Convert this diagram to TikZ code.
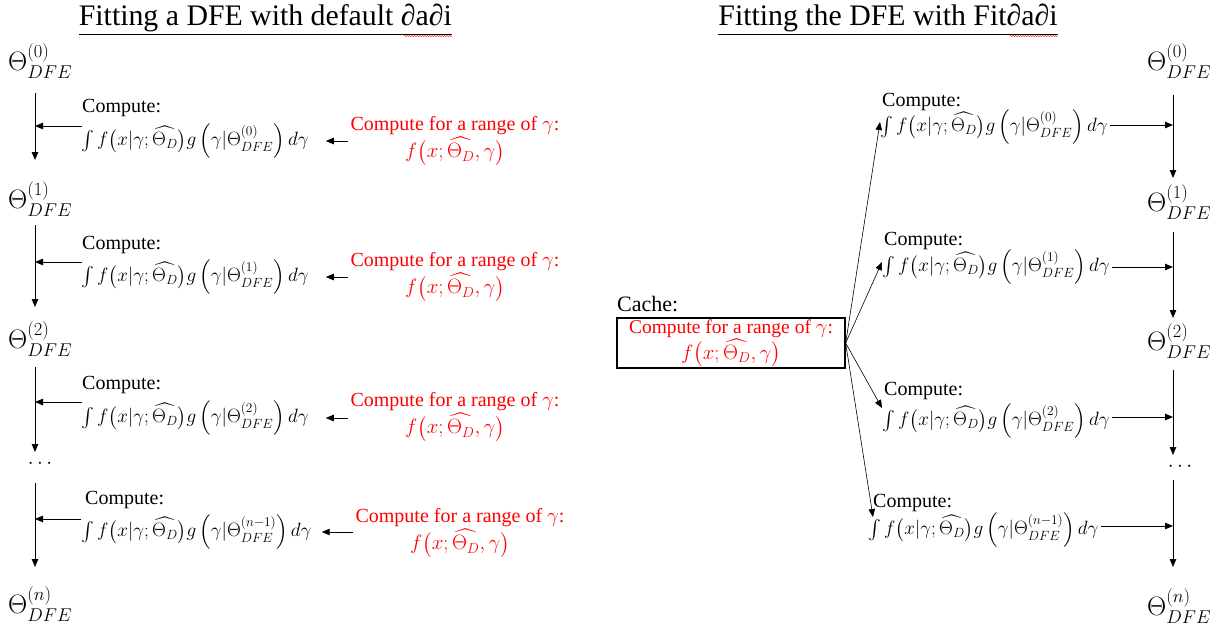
\documentclass[tikz,border=0pt]{standalone}
\usepackage{exscale}
\usepackage{fontspec}
\setmainfont{Liberation Serif}
\usetikzlibrary{arrows.meta,decorations.pathmorphing}
\newcommand{\myinteg}[1]{$\int f\big(x|\gamma;\widehat{\Theta_D}\big)g\,\Big(\gamma|\Theta^{(#1)}_{DFE}\Big)\,d\gamma$}
\newcommand{\myrange}{Compute for a range of $\gamma$:\\ $f\big(x;\widehat{\Theta_D},\gamma\big)$}
\begin{document}
\begin{tikzpicture}[x=1pt,y=-1pt,
  arr/.style={-{Triangle[length=8pt,width=6.5pt]},line width=0.8pt},
  thin arr/.style={-{Triangle[length=8pt,width=6.5pt]},line width=0.6pt},
  theta/.style={font=\fontsize{25.5}{28}\selectfont, scale=1.07, inner sep=0pt, anchor=west},
  lbl/.style={font=\fontsize{20}{22}\selectfont, inner sep=0pt, anchor=west},
  integ/.style={font=\fontsize{20}{22}\selectfont, scale=0.927, inner sep=0pt, anchor=west},
  redtxt/.style={font=\fontsize{20}{27}\selectfont, text=red, align=center, inner sep=0pt},
  ttl/.style={font=\fontsize{29.8}{32}\selectfont, inner sep=0pt},
  squig/.style={red, line width=0.4pt, decorate, decoration={snake, amplitude=0.6pt, segment length=2.5pt}}
]
\useasboundingbox (0,0) rectangle (1217,632);

% titles
\node[ttl, anchor=east] (titleL) at (452,20) {\underline{Fitting a DFE with default ∂a∂i}};
\node[ttl] (titleR) at (888,20) {\underline{Fitting the DFE with Fit∂a∂i}};
\draw[squig] ([xshift=-48pt,yshift=-16pt]titleL.east) -- ([yshift=-16pt]titleL.east);
\draw[squig] ([xshift=-48pt,yshift=-16pt]titleR.east) -- ([yshift=-16pt]titleR.east);

% ---------------- left column ----------------
\coordinate (vL) at (35,0);
\node[theta] (tL0) at (8,61) {$\Theta^{(0)}_{DFE}$};
\node[theta] (tL1) at (8,199) {$\Theta^{(1)}_{DFE}$};
\node[theta] (tL2) at (8,339) {$\Theta^{(2)}_{DFE}$};
\node[font=\fontsize{20}{22}\selectfont, inner sep=0pt] (tLd) at (40,464) {$\cdots$};
\node[theta] (tLn) at (8,604) {$\Theta^{(n)}_{DFE}$};

\draw[arr] (vL |- 0,93) -- (vL |- 0,160);
\draw[arr] (vL |- 0,225) -- (vL |- 0,307);
\draw[arr] (vL |- 0,367) -- (vL |- 0,452);
\draw[arr] (vL |- 0,483) -- (vL |- 0,567);

\node[lbl] (cL1) at (82,108) {Compute:};
\node[integ] (iL1) at (81,141) {\myinteg{0}};
\node[lbl] (cL2) at (82,245) {Compute:};
\node[integ] (iL2) at (81,277) {\myinteg{1}};
\node[lbl] (cL3) at (82,385) {Compute:};
\node[integ] (iL3) at (81,418) {\myinteg{2}};
\node[lbl] (cL4) at (85,500) {Compute:};
\node[integ] (iL4) at (81,532) {\myinteg{n-1}};

\draw[arr] (cL1.west |- 0,126) -- (vL |- 0,126);
\draw[arr] (cL2.west |- 0,262) -- (vL |- 0,262);
\draw[arr] (cL3.west |- 0,402) -- (vL |- 0,402);
\draw[arr] (iL4.west |- 0,519) -- (vL |- 0,519);

\node[redtxt] (rL1) at (455,141) {\myrange};
\node[redtxt] (rL2) at (455,277) {\myrange};
\node[redtxt] (rL3) at (455,417) {\myrange};
\node[redtxt] (rL4) at (460,533) {\myrange};

\draw[arr] ([xshift=-2pt]rL1.west |- iL1) -- ([xshift=17pt]iL1.east);
\draw[arr] ([xshift=-2pt]rL2.west |- iL2) -- ([xshift=17pt]iL2.east);
\draw[arr] ([xshift=-2pt]rL3.west |- iL3) -- ([xshift=17pt]iL3.east);
\draw[arr] ([xshift=-2pt]rL4.west |- iL4) -- ([xshift=10pt]iL4.east);

% ---------------- right column ----------------
\coordinate (vR) at (1173,0);
\node[theta] (tR0) at (1147,61) {$\Theta^{(0)}_{DFE}$};
\node[theta] (tR1) at (1147,202) {$\Theta^{(1)}_{DFE}$};
\node[theta] (tR2) at (1147,341) {$\Theta^{(2)}_{DFE}$};
\node[font=\fontsize{20}{22}\selectfont, inner sep=0pt] (tRd) at (1180,467) {$\cdots$};
\node[theta] (tRn) at (1147,606) {$\Theta^{(n)}_{DFE}$};

\draw[arr] (vR |- 0,95) -- (vR |- 0,178);
\draw[arr] (vR |- 0,232) -- (vR |- 0,318);
\draw[arr] (vR |- 0,370) -- (vR |- 0,455);
\draw[arr] (vR |- 0,480) -- (vR |- 0,567);

\node[lbl] (cR1) at (882,102) {Compute:};
\node[integ] (iR1) at (880,127) {\myinteg{0}};
\node[lbl] (cR2) at (884,241) {Compute:};
\node[integ] (iR2) at (882,267) {\myinteg{1}};
\node[lbl] (cR3) at (884,391) {Compute:};
\node[integ] (iR3) at (882,421) {\myinteg{2}};
\node[lbl] (cR4) at (873,503) {Compute:};
\node[integ] (iR4) at (868,530) {\myinteg{n-1}};

\draw[arr] ([xshift=2pt,yshift=2pt]iR1.east) -- ([yshift=2pt]iR1.east -| vR);
\draw[arr] ([xshift=2pt]iR2.east) -- (iR2.east -| vR);
\draw[arr] ([xshift=2pt,yshift=4pt]iR3.east) -- ([yshift=4pt]iR3.east -| vR);
\draw[arr] ([xshift=2pt,yshift=4pt]iR4.east) -- ([yshift=4pt]iR4.east -| vR);

\node[font=\fontsize{22}{24}\selectfont, inner sep=0pt, anchor=west] (cachelbl) at (617,304) {Cache:};
\node[draw, line width=1.3pt, minimum width=228pt, minimum height=50pt, inner sep=0pt,
      font=\fontsize{19.5}{26}\selectfont, text=red, align=center] (cache) at (731,343) {\myrange};

\draw[thin arr] (cache.east) -- ([yshift=5pt]iR1.west);
\draw[thin arr] (cache.east) -- ([yshift=5pt]iR2.west);
\draw[thin arr] (cache.east) -- ([yshift=13pt]iR3.west);
\draw[thin arr] (cache.east) -- ([xshift=5pt,yshift=13pt]iR4.west);
\end{tikzpicture}
\end{document}
